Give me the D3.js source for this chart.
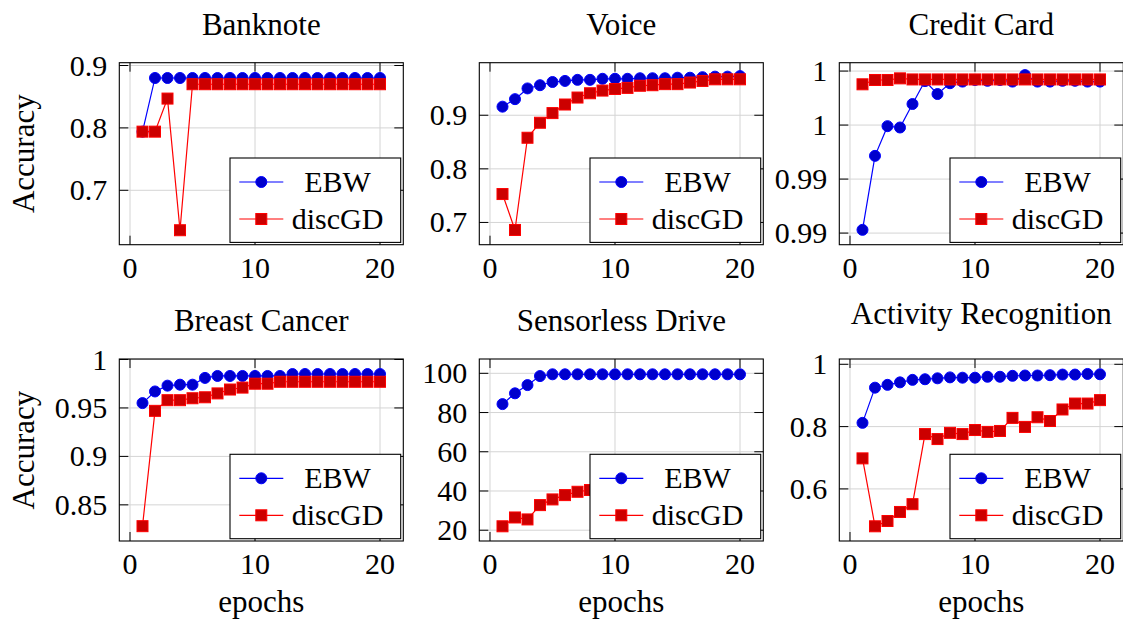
<!DOCTYPE html>
<html>
<head>
<meta charset="utf-8">
<script src="https://cdn.jsdelivr.net/npm/d3@7"></script>
<style>
  html, body { margin: 0; padding: 0; background: #fff; }
  svg { display: block; }
  text { font-family: "Liberation Serif", "Times New Roman", serif; fill: #000; }
</style>
</head>
<body>
<div id="chart"></div>
<script>
// ---------------- DATA ----------------
const epochs = [1,2,3,4,5,6,7,8,9,10,11,12,13,14,15,16,17,18,19,20];
const seriesNames = ["EBW", "discGD"];
const titles = ["Banknote", "Voice", "Credit Card", "Breast Cancer", "Sensorless Drive", "Activity Recognition"];
const xTicks = [0, 10, 20];
const xTickLabels = ["0", "10", "20"];
const yLabel = "Accuracy";
const xLabel = "epochs";

const banknoteEBW = [0.794,0.880,0.880,0.880,0.880,0.880,0.880,0.880,0.880,0.880,0.880,0.880,0.880,0.880,0.880,0.880,0.880,0.880,0.880,0.880];
const banknoteGD  = [0.794,0.794,0.847,0.636,0.870,0.870,0.870,0.870,0.870,0.870,0.870,0.870,0.870,0.870,0.870,0.870,0.870,0.870,0.870,0.870];

const voiceEBW = [0.916,0.930,0.950,0.956,0.962,0.964,0.966,0.966,0.968,0.968,0.968,0.969,0.969,0.969,0.970,0.970,0.971,0.972,0.972,0.973];
const voiceGD  = [0.753,0.686,0.858,0.886,0.904,0.920,0.933,0.941,0.946,0.949,0.951,0.955,0.956,0.958,0.958,0.961,0.964,0.967,0.967,0.967];

const creditEBW = [0.99212,0.99486,0.99596,0.99591,0.99678,0.99763,0.99715,0.99755,0.99761,0.99767,0.99764,0.99767,0.99761,0.99785,0.99761,0.99761,0.99764,0.99764,0.99761,0.99761];
const creditGD  = [0.99751,0.99767,0.99767,0.99773,0.99769,0.99769,0.99769,0.99769,0.99769,0.99769,0.99769,0.99769,0.99769,0.99769,0.99769,0.99769,0.99769,0.99769,0.99769,0.99769];

const breastEBW = [0.955,0.967,0.973,0.974,0.974,0.981,0.983,0.983,0.983,0.983,0.983,0.983,0.985,0.985,0.985,0.985,0.985,0.985,0.985,0.985];
const breastGD  = [0.828,0.947,0.958,0.958,0.960,0.961,0.965,0.969,0.971,0.975,0.975,0.977,0.977,0.977,0.977,0.977,0.977,0.977,0.977,0.977];

const sensorEBW = [84.3,89.8,94.0,98.6,99.5,99.5,99.5,99.5,99.5,99.5,99.5,99.5,99.5,99.5,99.5,99.5,99.5,99.5,99.5,99.5];
const sensorGD  = [22.0,26.5,25.5,32.8,35.7,37.9,39.6,40.5,41.0,42.0,43.0,44.0,45.0,46.0,46.5,47.0,48.0,48.5,49.0,50.0];

const activityEBW = [0.812,0.925,0.934,0.942,0.950,0.952,0.955,0.958,0.957,0.957,0.960,0.960,0.963,0.964,0.964,0.965,0.967,0.967,0.969,0.968];
const activityGD  = [0.698,0.480,0.497,0.526,0.551,0.776,0.760,0.780,0.776,0.789,0.783,0.786,0.828,0.799,0.830,0.818,0.855,0.874,0.874,0.885];

const yTicksList = [
  [0.7, 0.8, 0.9],
  [0.7, 0.8, 0.9],
  [0.992, 0.994, 0.996, 0.998],
  [0.85, 0.9, 0.95, 1],
  [20, 40, 60, 80, 100],
  [0.6, 0.8, 1]
];
const yTickLabelsList = [
  ["0.7", "0.8", "0.9"],
  ["0.7", "0.8", "0.9"],
  ["0.99", "0.99", "1", "1"],
  ["0.85", "0.9", "0.95", "1"],
  ["20", "40", "60", "80", "100"],
  ["0.6", "0.8", "1"]
];
const yDomains = [
  [0.6128, 0.9045],
  [0.6585, 0.998],
  [0.99157, 0.99831],
  [0.8127, 1.0005],
  [14.5, 107.3],
  [0.4328, 1.017]
];
const ebwSeries = [banknoteEBW, voiceEBW, creditEBW, breastEBW, sensorEBW, activityEBW];
const gdSeries  = [banknoteGD, voiceGD, creditGD, breastGD, sensorGD, activityGD];

// ---------------- LAYOUT / STYLE ----------------
const W = 1123, H = 625;
const colLeft = [119.3, 479.3, 839.3];
const rowTop = [62.7, 359];
const boxW = 284, boxH = 182;
const xDomain = [-0.856, 21.864];
const gridColor = "#d4d4d4";
const fontTick = 30, fontTitle = 31, fontLabel = 31, fontLegend = 30;
const styles = [
  { stroke: "#0000ff", fill: "#0000cc", shape: "circle" },
  { stroke: "#ff0000", fill: "#cc0000", shape: "square" }
];

const svg = d3.select("#chart").append("svg")
  .attr("width", W).attr("height", H)
  .attr("viewBox", `0 0 ${W} ${H}`);
svg.append("rect").attr("width", W).attr("height", H).attr("fill", "#fff");

function drawMarker(g, shape, cx, cy, st) {
  if (shape === "circle") {
    g.append("circle").attr("cx", cx).attr("cy", cy).attr("r", 5.5)
      .attr("fill", st.fill).attr("stroke", st.stroke).attr("stroke-width", 1);
  } else {
    const s = 11;
    g.append("rect").attr("x", cx - s / 2).attr("y", cy - s / 2).attr("width", s).attr("height", s)
      .attr("fill", st.fill).attr("stroke", st.stroke).attr("stroke-width", 1);
  }
}

titles.forEach((title, i) => {
  const col = i % 3, row = Math.floor(i / 3);
  const left = colLeft[col], top = rowTop[row];
  const g = svg.append("g").attr("transform", `translate(${left},${top})`);

  const x = d3.scaleLinear().domain(xDomain).range([0, boxW]);
  const y = d3.scaleLinear().domain(yDomains[i]).range([boxH, 0]);
  const yTicks = yTicksList[i];

  // grid
  const grid = g.append("g");
  xTicks.forEach(t => grid.append("line")
    .attr("x1", x(t)).attr("x2", x(t)).attr("y1", 0).attr("y2", boxH)
    .attr("stroke", gridColor).attr("stroke-width", 1));
  yTicks.forEach(t => grid.append("line")
    .attr("x1", 0).attr("x2", boxW).attr("y1", y(t)).attr("y2", y(t))
    .attr("stroke", gridColor).attr("stroke-width", 1));

  // tick marks (inward, all sides)
  const tl = 9;
  const ticks = g.append("g").attr("stroke", "#000").attr("stroke-width", 1);
  xTicks.forEach(t => {
    ticks.append("line").attr("x1", x(t)).attr("x2", x(t)).attr("y1", boxH).attr("y2", boxH - tl);
    ticks.append("line").attr("x1", x(t)).attr("x2", x(t)).attr("y1", 0).attr("y2", tl);
  });
  yTicks.forEach(t => {
    ticks.append("line").attr("x1", 0).attr("x2", tl).attr("y1", y(t)).attr("y2", y(t));
    ticks.append("line").attr("x1", boxW).attr("x2", boxW - tl).attr("y1", y(t)).attr("y2", y(t));
  });

  // series
  const seriesData = [ebwSeries[i], gdSeries[i]];
  seriesData.forEach((vals, s) => {
    const st = styles[s];
    const pts = epochs.map((e, k) => [e, vals[k]]);
    g.append("path")
      .attr("d", d3.line().x(d => x(d[0])).y(d => y(d[1]))(pts))
      .attr("fill", "none").attr("stroke", st.stroke).attr("stroke-width", 1.2);
    const mg = g.append("g");
    pts.forEach(d => drawMarker(mg, st.shape, x(d[0]), y(d[1]), st));
  });

  // frame
  g.append("rect").attr("x", 0).attr("y", 0).attr("width", boxW).attr("height", boxH)
    .attr("fill", "none").attr("stroke", "#000").attr("stroke-width", 1.1);

  // legend
  const lw = 170.7, lh = 84.4;
  const lg = g.append("g").attr("transform", `translate(${boxW - 2.6 - lw},${boxH - 2.3 - lh})`);
  lg.append("rect").attr("width", lw).attr("height", lh)
    .attr("fill", "#fff").attr("stroke", "#000").attr("stroke-width", 1.1);
  seriesNames.forEach((name, s) => {
    const st = styles[s];
    const cy = s === 0 ? 24 : 61;
    lg.append("line").attr("x1", 9.3).attr("x2", 53.3).attr("y1", cy).attr("y2", cy)
      .attr("stroke", st.stroke).attr("stroke-width", 1.2);
    drawMarker(lg, st.shape, 31.3, cy, st);
    lg.append("text").attr("x", 107.5).attr("y", cy + 9.5)
      .attr("text-anchor", "middle").attr("font-size", fontLegend).text(name);
  });

  // x tick labels
  xTicks.forEach((t, k) => g.append("text")
    .attr("x", x(t)).attr("y", boxH + 33)
    .attr("text-anchor", "middle").attr("font-size", fontTick).text(xTickLabels[k]));
  // y tick labels
  yTicks.forEach((t, k) => g.append("text")
    .attr("x", -12).attr("y", y(t) + 10)
    .attr("text-anchor", "end").attr("font-size", fontTick).text(yTickLabelsList[i][k]));

  // title
  const desc = /[gjpqy]/.test(title) ? 7 : 0;
  g.append("text").attr("x", boxW / 2).attr("y", -28 - desc)
    .attr("text-anchor", "middle").attr("font-size", fontTitle).text(title);

  // axis labels
  if (col === 0) {
    svg.append("text")
      .attr("transform", `translate(33.5,${top + boxH / 2}) rotate(-90)`)
      .attr("text-anchor", "middle").attr("font-size", fontLabel).text(yLabel);
  }
  if (row === 1) {
    g.append("text").attr("x", boxW / 2).attr("y", 612 - top)
      .attr("text-anchor", "middle").attr("font-size", fontLabel).text(xLabel);
  }
});
</script>
</body>
</html>
